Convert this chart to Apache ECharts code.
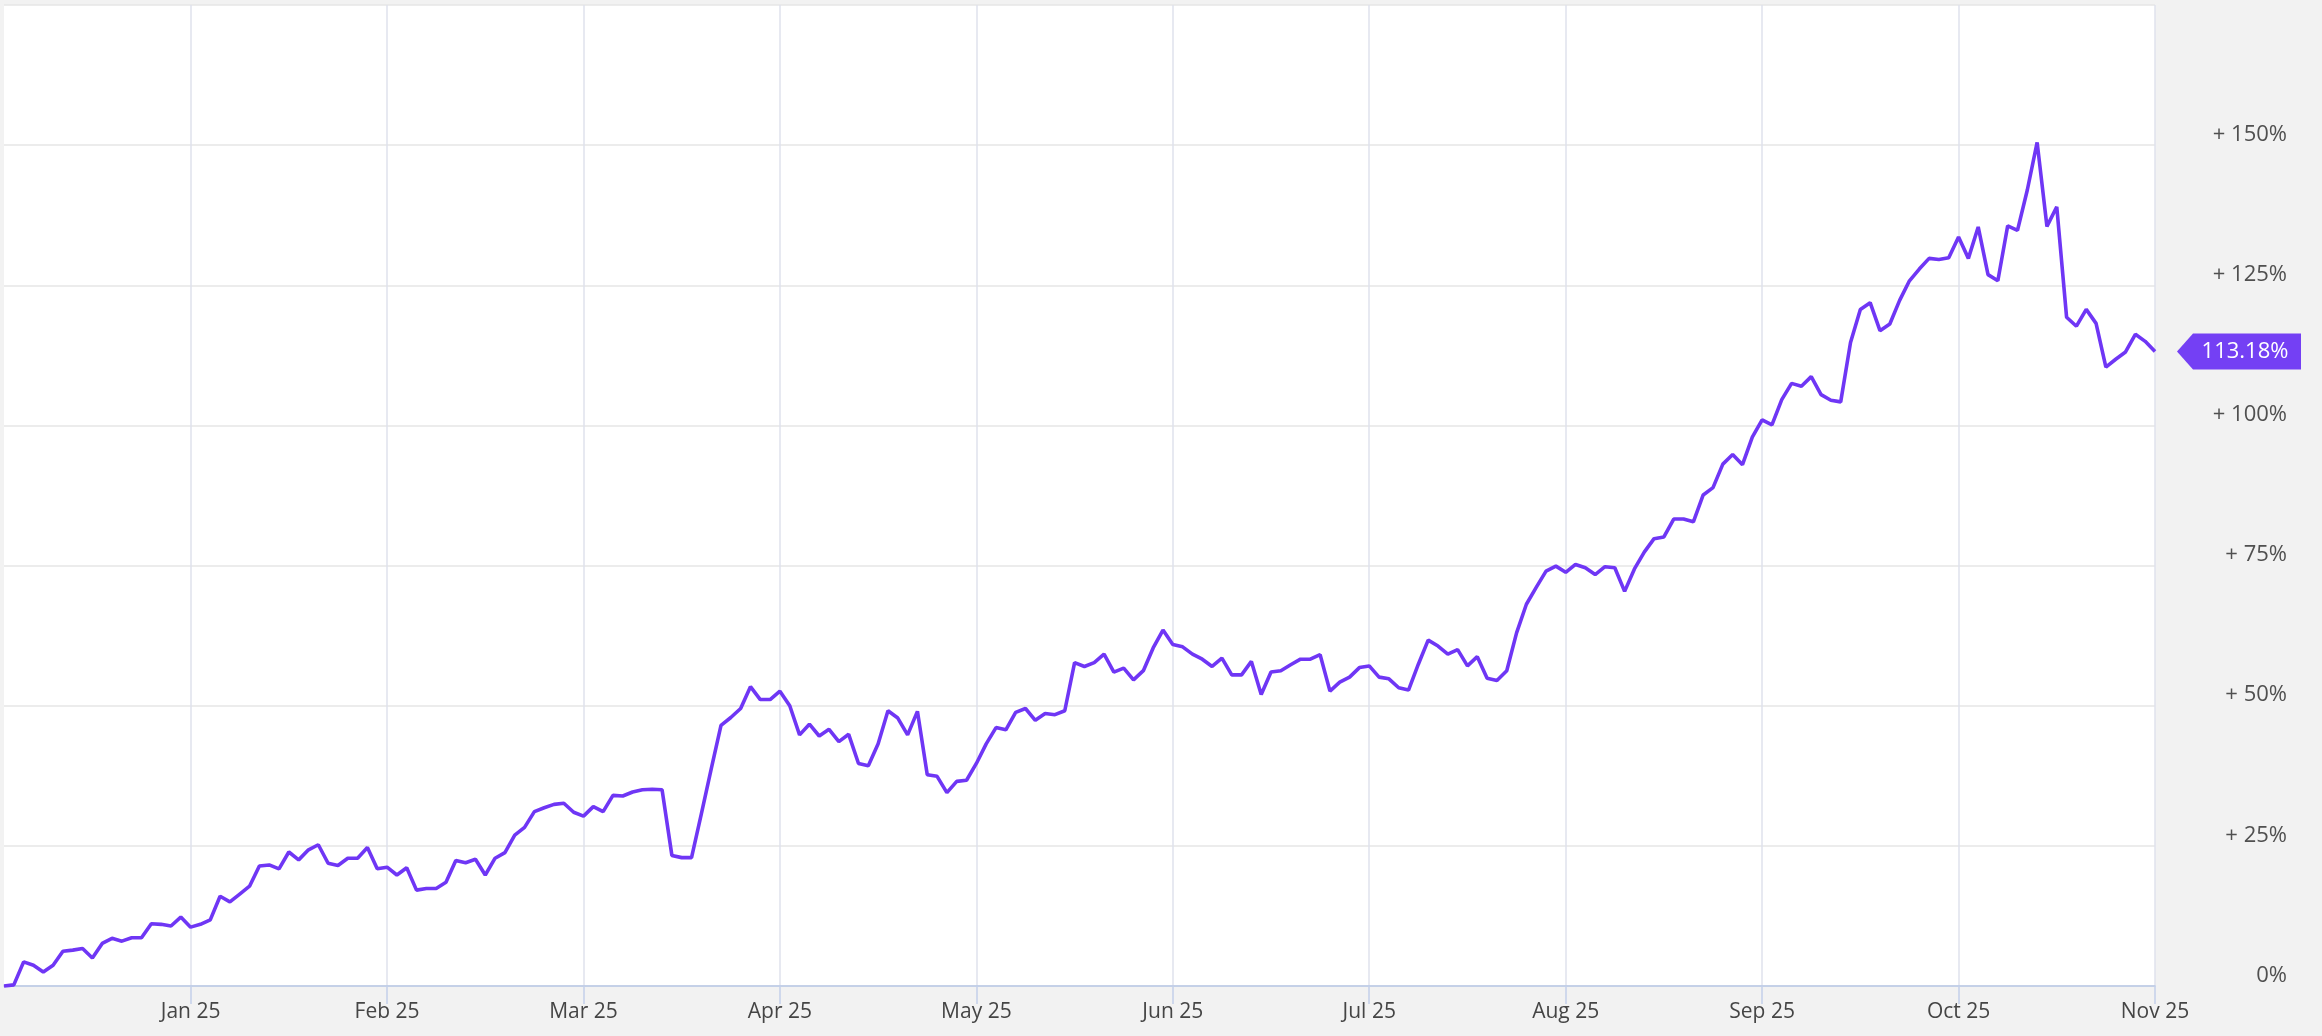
<!DOCTYPE html>
<html><head><meta charset="utf-8">
<script src="https://cdn.jsdelivr.net/npm/echarts@6/dist/echarts.min.js"></script>
<style>html,body{margin:0;padding:0;background:#f2f2f2}#c{width:2322px;height:1036px}</style>
</head><body><div id="c"></div>
<script>
const monthLabels = ['Jan 25','Feb 25','Mar 25','Apr 25','May 25','Jun 25','Jul 25','Aug 25','Sep 25','Oct 25','Nov 25'];
const monthStartIndex = [19,39,59,79,99,119,139,159,179,199,219];
const returns = [
 0, 0.2, 4.3, 3.7, 2.5, 3.7, 6.2, 6.4, 6.7, 5.0,
 7.6, 8.5, 8.0, 8.6, 8.6, 11.1, 11.0, 10.7, 12.3, 10.5,
 11.0, 11.8, 16.0, 15.0, 16.4, 17.8, 21.4, 21.6, 20.9, 23.9,
 22.5, 24.3, 25.2, 21.9, 21.5, 22.8, 22.8, 24.7, 20.9, 21.2,
 19.8, 21.1, 17.1, 17.4, 17.4, 18.5, 22.4, 22.0, 22.6, 19.8,
 22.8, 23.8, 26.9, 28.3, 31.1, 31.8, 32.4, 32.6, 31.0, 30.3,
 32.0, 31.1, 34.0, 33.9, 34.6, 35.0, 35.1, 35.0, 23.3, 22.9,
 22.9, 30.7, 38.7, 46.5, 47.9, 49.5, 53.4, 51.1, 51.1, 52.6,
 50.0, 44.8, 46.7, 44.6, 45.8, 43.6, 44.9, 39.7, 39.3, 43.2,
 49.1, 47.8, 44.8, 49.0, 37.7, 37.4, 34.5, 36.5, 36.7, 39.7,
 43.2, 46.1, 45.7, 48.8, 49.5, 47.4, 48.6, 48.4, 49.1, 57.7,
 57.0, 57.7, 59.2, 56.0, 56.7, 54.6, 56.25, 60.3, 63.5, 60.9,
 60.5, 59.2, 58.3, 57.0, 58.5, 55.5, 55.5, 57.9, 52.0, 56.0,
 56.25, 57.3, 58.3, 58.3, 59.1, 52.6, 54.2, 55.1, 56.8, 57.1,
 55.1, 54.8, 53.2, 52.8, 57.4, 61.7, 60.65, 59.2, 60.0, 57.1,
 58.75, 54.9, 54.5, 56.25, 63.0, 68.1, 71.1, 74.0, 74.9, 73.8,
 75.2, 74.6, 73.4, 74.8, 74.6, 70.4, 74.4, 77.4, 79.8, 80.1,
 83.3, 83.3, 82.8, 87.6, 88.9, 93.1, 94.8, 93.0, 97.9, 101.0,
 100.1, 104.6, 107.5, 107.0, 108.7, 105.5, 104.5, 104.2, 114.8, 120.7,
 121.9, 116.9, 118.1, 122.3, 125.8, 127.9, 129.8, 129.6, 129.9, 133.6,
 129.8, 135.4, 126.9, 125.8, 135.6, 134.8, 142.0, 150.5, 135.5, 139.0,
 119.3, 117.7, 120.7, 118.2, 110.4, 111.8, 113.1, 116.25, 115.0, 113.18
];
const lastValue = 113.18;
const yMin = 0, yMax = 175, yStep = 25;

const categories = returns.map((v, i) => String(i));
const labelAt = {};
monthStartIndex.forEach((idx, k) => { labelAt[idx] = monthLabels[k]; });
const isMonth = (i) => labelAt[i] !== undefined;

const FONT = 'Open Sans';
const chart = echarts.init(document.getElementById('c'), null, {renderer: 'canvas'});
chart.setOption({
  animation: false,
  backgroundColor: '#f2f2f2',
  grid: {left: 4, right: 167, top: 5, bottom: 50, show: true, backgroundColor: '#ffffff', borderWidth: 0, containLabel: false},
  xAxis: {
    type: 'category', data: categories, boundaryGap: false,
    axisLine: {show: true, lineStyle: {color: '#b8c7e6', width: 1.5}},
    axisTick: {show: true, interval: (i) => isMonth(i), length: 18, lineStyle: {color: '#c4d0ea', width: 1.5}},
    axisLabel: {interval: (i) => isMonth(i), formatter: (v, i) => labelAt[i] || '', margin: 16,
      color: '#454545', fontSize: 21, fontFamily: FONT},
    splitLine: {show: true, interval: (i) => isMonth(i), lineStyle: {color: '#dfe2ec', width: 1.5}}
  },
  yAxis: {
    type: 'value', position: 'right', min: yMin, max: yMax, interval: yStep,
    axisLine: {show: false}, axisTick: {show: false},
    axisLabel: {formatter: (v) => v === 0 ? '0%' : '+ ' + v + '%', align: 'right', margin: 132,
      verticalAlign: 'bottom', padding: [0, 0, 0, 0], lineHeight: 21, showMaxLabel: false,
      color: '#505050', fontSize: 22, fontFamily: FONT},
    splitLine: {show: true, lineStyle: {color: '#e6e6e6', width: 1.5}}
  },
  series: [{
    type: 'line', data: returns, showSymbol: false, symbol: 'none',
    lineStyle: {color: '#6f36f5', width: 3.6}, clip: false,
    markPoint: {
      silent: true,
      symbol: 'path://M0,18 L16,0 L124,0 L124,36 L16,36 Z',
      symbolSize: [124, 36], symbolOffset: [84, 0], symbolKeepAspect: false,
      itemStyle: {color: '#7440f4'},
      label: {show: true, position: 'inside', offset: [6, 0], color: '#ffffff', fontSize: 22, fontFamily: FONT,
        formatter: (p) => Number(p.value).toFixed(2) + '%'},
      data: [{coord: [String(returns.length - 1), lastValue], value: lastValue}]
    }
  }]
});
</script></body></html>
